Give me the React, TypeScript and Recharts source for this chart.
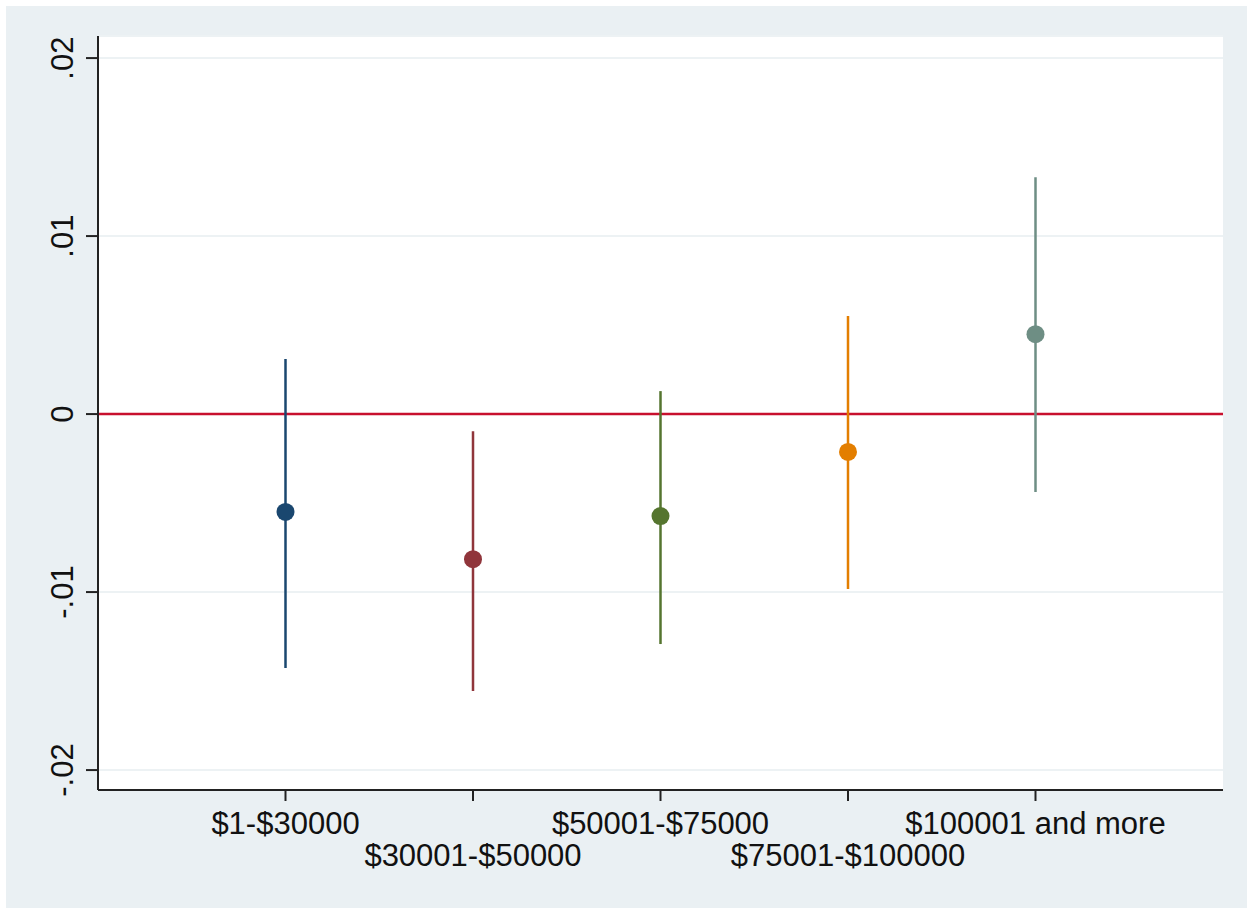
import {
  CartesianGrid,
  ErrorBar,
  ReferenceLine,
  Scatter,
  ScatterChart,
  XAxis,
  YAxis
} from "recharts";

const categories = ["$1-$30000", "$30001-$50000", "$50001-$75000", "$75001-$100000", "$100001 and more"];
const estimates = [-0.0055, -0.00815, -0.00573, -0.00213, 0.00449];
const lower = [-0.01427, -0.01556, -0.01292, -0.00983, -0.00438];
const upper = [0.00309, -0.00096, 0.00129, 0.00551, 0.01331];
const colors = ["#1a476f", "#90353b", "#55752f", "#e37e00", "#6e8e84"];
const yTicks = [-0.02, -0.01, 0, 0.01, 0.02];
const yLabels = ["-.02", "-.01", "0", ".01", ".02"];

const FONT = "'Liberation Sans', Arial, Helvetica, sans-serif";

// one series per income group so every dot gets its own colour
const series = categories.map((name, i) => ({
  name,
  color: colors[i],
  data: [{ x: i + 1, y: estimates[i], err: [estimates[i] - lower[i], upper[i] - estimates[i]] }]
}));

function XTick(props: any) {
  const { x, payload, index } = props;
  const row = index % 2;
  return (
    <text
      x={x}
      y={row === 0 ? 834 : 866}
      textAnchor="middle"
      fontSize={31}
      fontFamily={FONT}
      fill="#111"
    >
      {categories[payload.value - 1]}
    </text>
  );
}

function YTick(props: any) {
  const { y, payload } = props;
  const idx = yTicks.indexOf(payload.value);
  return (
    <text
      x={73}
      y={y}
      transform={`rotate(-90, 73, ${y})`}
      textAnchor="middle"
      fontSize={31}
      fontFamily={FONT}
      fill="#111"
    >
      {idx >= 0 ? yLabels[idx] : payload.value}
    </text>
  );
}

export default function App() {
  return (
    <div style={{ position: "absolute", left: 0, top: 0, width: 1253, height: 912, background: "#fff" }}>
      <div style={{ position: "absolute", left: 6, top: 6, width: 1241, height: 902, background: "#eaf0f3" }} />
      <div style={{ position: "absolute", left: 0, top: 0 }}>
        <ScatterChart width={1253} height={912} margin={{ top: 36, right: 30, bottom: 42, left: 0 }}>
          <CartesianGrid vertical={false} fill="#fff" stroke="#edf2f4" strokeWidth={2} />
          <XAxis
            type="number"
            dataKey="x"
            domain={[0, 6]}
            ticks={[1, 2, 3, 4, 5]}
            height={80}
            stroke="#222"
            strokeWidth={2}
            tickSize={11}
            tick={<XTick />}
            interval={0}
          />
          <YAxis
            type="number"
            dataKey="y"
            domain={[-0.02112, 0.02124]}
            ticks={yTicks}
            width={98}
            stroke="#222"
            strokeWidth={2}
            tickSize={12}
            tick={<YTick />}
            allowDataOverflow
          />
          <ReferenceLine y={0} stroke="#c8102e" strokeWidth={2.5} />
          {series.map((s) => (
            <Scatter
              key={s.name}
              name={s.name}
              data={s.data}
              fill={s.color}
              isAnimationActive={false}
              shape={(p: any) => <circle cx={p.cx} cy={p.cy} r={9} fill={s.color} />}
            >
              <ErrorBar dataKey="err" direction="y" width={0} stroke={s.color} strokeWidth={2.5} />
            </Scatter>
          ))}
        </ScatterChart>
      </div>
    </div>
  );
}
